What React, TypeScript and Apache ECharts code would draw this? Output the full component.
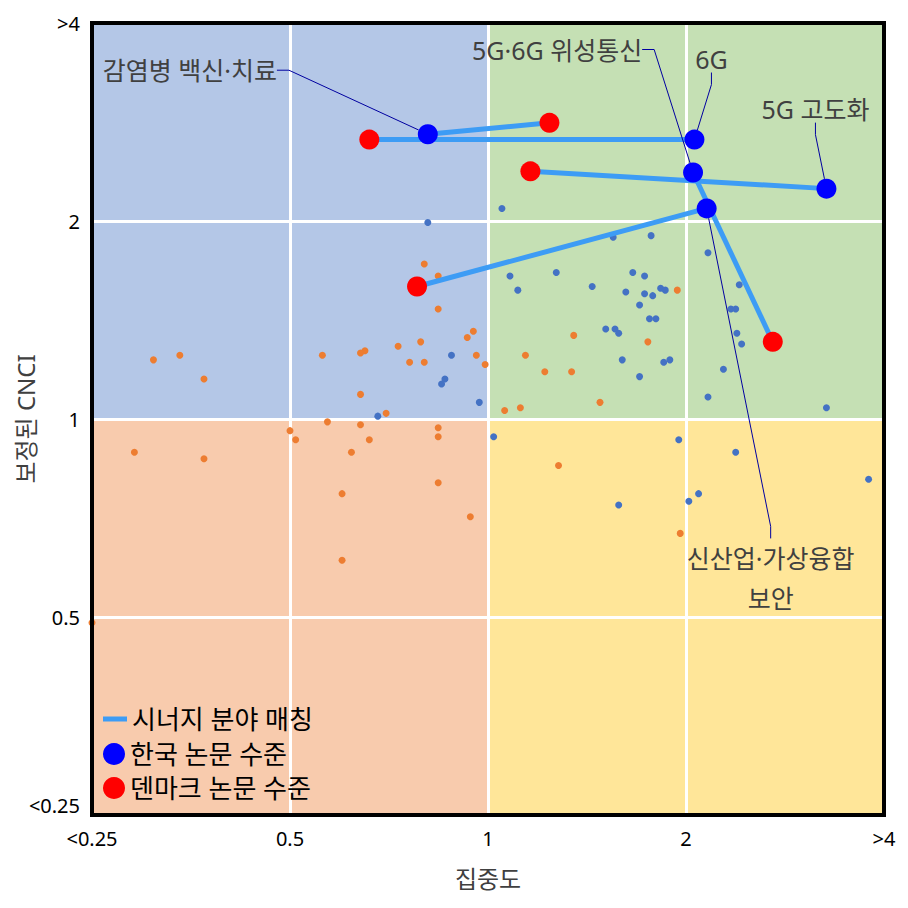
import React, { useEffect, useRef } from "react";
import * as echarts from "echarts";

// ---- Matched synergy fields: Korea (blue) vs Denmark (red) ----
const fieldNames = ["감염병 백신·치료", "6G", "5G·6G 위성통신", "5G 고도화", "신산업·가상융합\n보안"];
const koreaConc = [0.81, 2.06, 2.05, 3.27, 2.15];
const koreaCnci = [2.71, 2.66, 2.37, 2.24, 2.09];
const denmarkConc = [1.24, 0.66, 2.71, 1.16, 0.78];
const denmarkCnci = [2.82, 2.66, 1.31, 2.38, 1.59];

// ---- All Korean fields (small blue dots) ----
const koreaAllConc = [
  0.81, 1.05, 0.88, 0.86, 0.85, 0.97, 0.68, 1.55, 1.77, 2.16,
  1.08, 1.11, 1.27, 1.44, 1.66, 1.73, 1.62, 1.73, 1.78, 1.83,
  1.86, 1.7, 2.41, 2.34, 2.38, 1.76, 1.8, 1.51, 1.56, 1.58,
  2.39, 2.43, 1.6, 1.7, 1.85, 1.89, 2.28, 2.16, 3.27, 1.02,
  1.95, 2.38, 3.79, 1.58, 2.02, 2.09,
];
const koreaAllCnci = [
  1.99, 2.09, 1.25, 1.15, 1.13, 1.06, 1.01, 1.89, 1.9, 1.79,
  1.65, 1.57, 1.67, 1.59, 1.67, 1.65, 1.56, 1.55, 1.54, 1.58,
  1.57, 1.49, 1.6, 1.47, 1.47, 1.42, 1.42, 1.37, 1.37, 1.35,
  1.35, 1.3, 1.23, 1.16, 1.22, 1.23, 1.19, 1.08, 1.04, 0.94,
  0.93, 0.89, 0.81, 0.74, 0.75, 0.77,
];

// ---- All Danish fields (small orange dots) ----
const denmarkAllConc = [
  0.8, 0.84, 0.84, 0.95, 0.93, 0.79, 0.73, 0.65, 0.64, 0.56,
  0.96, 0.99, 0.76, 0.8, 0.31, 0.34, 0.37, 0.64, 0.7, 0.57,
  0.64, 0.84, 0.5, 0.51, 0.84, 0.66, 0.62, 0.29, 0.37, 0.84,
  0.6, 0.94, 0.6, 0.25, 1.94, 1.35, 1.75, 1.14, 1.22, 1.34,
  1.48, 1.06, 1.12, 1.28, 1.96,
];
const denmarkAllCnci = [
  1.72, 1.65, 1.47, 1.36, 1.33, 1.31, 1.29, 1.27, 1.26, 1.25,
  1.25, 1.21, 1.22, 1.22, 1.23, 1.25, 1.15, 1.09, 1.02, 0.99,
  0.98, 0.97, 0.96, 0.93, 0.94, 0.93, 0.89, 0.89, 0.87, 0.8,
  0.77, 0.71, 0.61, 0.49, 1.57, 1.34, 1.31, 1.25, 1.18, 1.18,
  1.06, 1.03, 1.04, 0.85, 0.67,
];

const tickLabels = ["<0.25", "0.5", "1", "2", ">4"];
const quadrantColors = ["#b4c7e7", "#c5e0b4", "#f8cbad", "#ffe699"];
const gridValues = [0.5, 1, 2];

const FONT = '"Noto Sans", "Noto Sans CJK KR", sans-serif';
// label placement relative to each Korean marker (pixels)
const labelOffsets = [
  [-238, -64],
  [17, -81],
  [-136, -123],
  [-11, -80],
  [64, 370],
];

const tickFmt = (v: number) => tickLabels[Math.round(Math.log2(v)) + 2] ?? "";

export default function App() {
  const ref = useRef<HTMLDivElement>(null);

  useEffect(() => {
    if (!ref.current) return;
    const chart = echarts.init(ref.current, null, { renderer: "svg" });

    const pairSeries = koreaConc.map((x, i) => ({
      type: "line",
      name: "시너지 분야 매칭",
      data: [
        [x, koreaCnci[i]],
        [denmarkConc[i], denmarkCnci[i]],
      ],
      showSymbol: false,
      symbol: "none",
      silent: true,
      z: 3,
      itemStyle: { color: "#3d9cf5" },
      lineStyle: { color: "#3d9cf5", width: 5 },
    }));

    const option: any = {
      animation: false,
      backgroundColor: "#ffffff",
      textStyle: { fontFamily: FONT },
      grid: {
        left: 92,
        top: 23,
        right: 24,
        bottom: 93,
        show: true,
        borderColor: "#000000",
        borderWidth: 4,
        backgroundColor: "transparent",
        z: 10,
        containLabel: false,
        outerBoundsMode: "none",
      },
      xAxis: {
        type: "log",
        logBase: 2,
        min: 0.25,
        max: 4,
        splitNumber: 4,
        axisLine: { show: false },
        axisTick: { show: false },
        splitLine: { show: false },
        axisLabel: { margin: 13, fontSize: 20, color: "#000", formatter: tickFmt, fontFamily: FONT },
        name: "집중도",
        nameLocation: "middle",
        nameGap: 51,
        nameMoveOverlap: false,
        nameTextStyle: { fontSize: 24, color: "#404040", fontFamily: FONT },
      },
      yAxis: {
        type: "log",
        logBase: 2,
        min: 0.25,
        max: 4,
        splitNumber: 4,
        axisLine: { show: false },
        axisTick: { show: false },
        splitLine: { show: false },
        axisLabel: {
          margin: 12,
          fontSize: 20,
          color: "#000",
          formatter: tickFmt,
          fontFamily: FONT,
          verticalAlignMinLabel: "bottom",
        },
        name: "보정된 CNCI",
        nameLocation: "middle",
        nameGap: 55,
        nameRotate: 90,
        nameMoveOverlap: false,
        nameTextStyle: { fontSize: 24, color: "#404040", fontFamily: FONT },
      },
      legend: [
        {
          data: [{ name: "시너지 분야 매칭", icon: "rect" }],
          left: 103,
          top: 706,
          padding: 0,
          itemWidth: 24,
          itemHeight: 5,
          selectedMode: false,
          textStyle: { fontSize: 26, color: "#000", fontFamily: FONT },
        },
        {
          data: [
            { name: "한국 논문 수준", icon: "circle" },
            { name: "덴마크 논문 수준", icon: "circle" },
          ],
          orient: "vertical",
          left: 103,
          top: 741,
          padding: 0,
          itemWidth: 22,
          itemHeight: 22,
          itemGap: 8,
          selectedMode: false,
          textStyle: { fontSize: 26, color: "#000", fontFamily: FONT },
        },
      ],
      series: [
        {
          type: "scatter",
          name: "덴마크 세부 분야",
          data: denmarkAllConc.map((x, i) => [x, denmarkAllCnci[i]]),
          symbolSize: 7,
          silent: true,
          z: 2,
          itemStyle: { color: "#ed7d31", opacity: 1 },
          markArea: {
            silent: true,
            z: 1,
            label: { show: false },
            data: [
              [{ xAxis: 0.25, yAxis: 1, itemStyle: { color: quadrantColors[0] } }, { xAxis: 1, yAxis: 4 }],
              [{ xAxis: 1, yAxis: 1, itemStyle: { color: quadrantColors[1] } }, { xAxis: 4, yAxis: 4 }],
              [{ xAxis: 0.25, yAxis: 0.25, itemStyle: { color: quadrantColors[2] } }, { xAxis: 1, yAxis: 1 }],
              [{ xAxis: 1, yAxis: 0.25, itemStyle: { color: quadrantColors[3] } }, { xAxis: 4, yAxis: 1 }],
            ],
          },
          markLine: {
            silent: true,
            z: 1.5,
            symbol: ["none", "none"],
            label: { show: false },
            lineStyle: { color: "#ffffff", width: 3, type: "solid" },
            data: [
              ...gridValues.map((v) => ({ xAxis: v })),
              ...gridValues.map((v) => ({ yAxis: v })),
            ],
          },
        },
        {
          type: "scatter",
          name: "한국 세부 분야",
          data: koreaAllConc.map((x, i) => [x, koreaAllCnci[i]]),
          symbolSize: 7,
          silent: true,
          z: 2,
          itemStyle: { color: "#4472c4", opacity: 1 },
        },
        ...pairSeries,
        {
          type: "scatter",
          name: "덴마크 논문 수준",
          data: denmarkConc.map((x, i) => [x, denmarkCnci[i]]),
          symbolSize: 20,
          silent: true,
          z: 4,
          itemStyle: { color: "#ff0000", opacity: 1 },
        },
        {
          type: "scatter",
          name: "한국 논문 수준",
          data: koreaConc.map((x, i) => ({
            value: [x, koreaCnci[i]],
            label: { lineHeight: i === 4 ? 40 : 28 },
          })),
          symbolSize: 20,
          silent: true,
          z: 5,
          itemStyle: { color: "#0000ff", opacity: 1 },
          label: {
            show: true,
            position: "inside",
            formatter: (p: any) => fieldNames[p.dataIndex],
            color: "#404040",
            fontSize: 25,
            align: "center",
            fontFamily: FONT,
          },
          labelLine: {
            show: true,
            length2: 12,
            lineStyle: { color: "#0000a0", width: 1 },
          },
          labelLayout: (p: any) => ({
            dx: labelOffsets[p.dataIndex][0],
            dy: labelOffsets[p.dataIndex][1],
          }),
        },
      ],
    };

    chart.setOption(option);
    return () => chart.dispose();
  }, []);

  return (
    <div
      ref={ref}
      style={{ position: "absolute", left: 0, top: 0, width: 908, height: 908, background: "#fff" }}
    />
  );
}
